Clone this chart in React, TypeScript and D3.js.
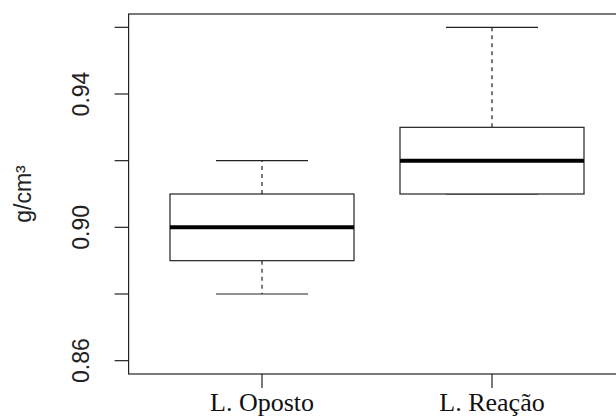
import React, { useEffect, useRef } from 'react'
import * as d3 from 'd3'

const width = 616
const height = 417
const margin = { top: 14, left: 128.6, bottom: 43, right: -9.4 }

const categories = ['L. Oposto', 'L. Reação']
const whiskLow = [0.88, 0.91]
const q1 = [0.89, 0.91]
const median = [0.9, 0.92]
const q3 = [0.91, 0.93]
const whiskHigh = [0.92, 0.96]

const yTicks = [0.86, 0.88, 0.9, 0.92, 0.94, 0.96]
const yLabels = ['0.86', '', '0.90', '', '0.94', '']
const yTitle = 'g/cm³'

const App = () => {
  const svgR = useRef<SVGSVGElement>(null)

  useEffect(() => {
    const svg = d3.select(svgR.current)
    svg.selectAll('*').remove()

    // R style: axis limits padded by 4%
    const x = d3.scaleLinear()
      .domain([0.42, 2.58])
      .range([margin.left, width - margin.right])

    const y = d3.scaleLinear()
      .domain([0.856, 0.964])
      .range([height - margin.bottom, margin.top])

    const data = categories.map((c, i) => ({
      name: c, pos: i + 1,
      lo: whiskLow[i], q1: q1[i], med: median[i], q3: q3[i], hi: whiskHigh[i]
    }))

    const boxHalf = 0.4
    const capHalf = 0.2

    const g = svg.append('g')
    const boxes = g.selectAll('g.box').data(data).enter().append('g').attr('class', 'box')

    // whiskers (dashed)
    boxes.append('line')
      .attr('x1', d => x(d.pos)).attr('x2', d => x(d.pos))
      .attr('y1', d => y(d.q3)).attr('y2', d => y(d.hi))
      .attr('stroke', '#222').attr('stroke-width', 1.2).attr('stroke-dasharray', '4,4')
    boxes.append('line')
      .attr('x1', d => x(d.pos)).attr('x2', d => x(d.pos))
      .attr('y1', d => y(d.q1)).attr('y2', d => y(d.lo))
      .attr('stroke', '#222').attr('stroke-width', 1.2).attr('stroke-dasharray', '4,4')

    // caps
    boxes.append('line')
      .attr('x1', d => x(d.pos - capHalf)).attr('x2', d => x(d.pos + capHalf))
      .attr('y1', d => y(d.hi)).attr('y2', d => y(d.hi))
      .attr('stroke', '#222').attr('stroke-width', 1.2)
    boxes.append('line')
      .attr('x1', d => x(d.pos - capHalf)).attr('x2', d => x(d.pos + capHalf))
      .attr('y1', d => y(d.lo)).attr('y2', d => y(d.lo))
      .attr('stroke', '#222').attr('stroke-width', 1.2)

    // box
    boxes.append('rect')
      .attr('x', d => x(d.pos - boxHalf))
      .attr('y', d => y(d.q3))
      .attr('width', d => x(d.pos + boxHalf) - x(d.pos - boxHalf))
      .attr('height', d => y(d.q1) - y(d.q3))
      .attr('fill', 'white').attr('stroke', '#222').attr('stroke-width', 1.2)

    // median
    boxes.append('line')
      .attr('x1', d => x(d.pos - boxHalf)).attr('x2', d => x(d.pos + boxHalf))
      .attr('y1', d => y(d.med)).attr('y2', d => y(d.med))
      .attr('stroke', '#000').attr('stroke-width', 4)

    // frame
    g.append('rect')
      .attr('x', margin.left).attr('y', margin.top)
      .attr('width', width - margin.right - margin.left)
      .attr('height', height - margin.bottom - margin.top)
      .attr('fill', 'none').attr('stroke', '#222').attr('stroke-width', 1.2)

    // y axis
    const yAxis = g.append('g')
    yAxis.selectAll('line').data(yTicks).enter().append('line')
      .attr('x1', margin.left - 14).attr('x2', margin.left)
      .attr('y1', d => y(d)).attr('y2', d => y(d))
      .attr('stroke', '#222').attr('stroke-width', 1.2)
    yAxis.selectAll('text').data(yTicks).enter().append('text')
      .attr('transform', d => `translate(${margin.left - 40},${y(d)}) rotate(-90)`)
      .attr('text-anchor', 'middle')
      .style('font-family', '"Liberation Sans", Arial, sans-serif')
      .style('font-size', '23px')
      .attr('fill', '#222')
      .text((d, i) => yLabels[i])

    g.append('text')
      .attr('transform', `translate(31,${(y.range()[0] + y.range()[1]) / 2}) rotate(-90)`)
      .attr('text-anchor', 'middle')
      .style('font-family', '"Liberation Sans", Arial, sans-serif')
      .style('font-size', '23px')
      .attr('fill', '#222')
      .text(yTitle)

    // x axis
    const xAxis = g.append('g')
    xAxis.selectAll('line').data(data).enter().append('line')
      .attr('x1', d => x(d.pos)).attr('x2', d => x(d.pos))
      .attr('y1', height - margin.bottom).attr('y2', height - margin.bottom + 14)
      .attr('stroke', '#222').attr('stroke-width', 1.2)
    xAxis.selectAll('text').data(data).enter().append('text')
      .attr('x', d => x(d.pos)).attr('y', 411)
      .attr('text-anchor', 'middle')
      .style('font-family', '"Liberation Serif", "Times New Roman", serif')
      .style('font-size', '26px')
      .attr('fill', '#111')
      .text(d => d.name)
  }, [])

  return (
    <svg ref={svgR} width={width} height={height}
      style={{ position: 'fixed', left: 0, top: 0, background: 'white' }} />
  )
}

export default App
